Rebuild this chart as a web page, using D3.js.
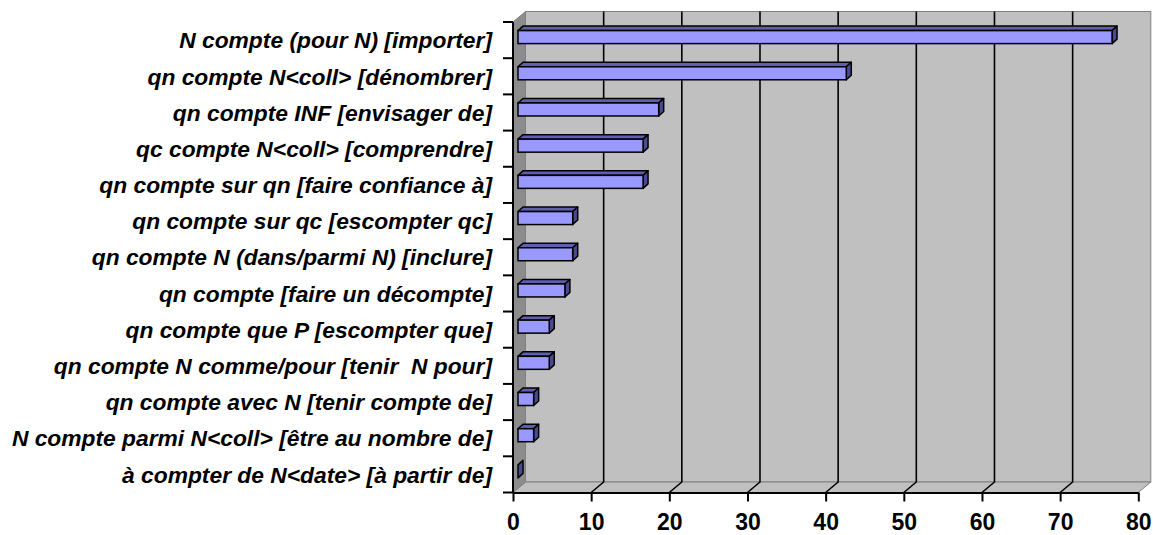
<!DOCTYPE html>
<html><head><meta charset="utf-8">
<script src="https://cdn.jsdelivr.net/npm/d3@7"></script>
<style>
html,body{margin:0;padding:0;background:#fff;}
svg{display:block;}
</style></head>
<body>
<svg id="chart" width="1153" height="535"></svg>
<script>
const categories = [
  "N compte (pour N) [importer]",
  "qn compte N<coll> [dénombrer]",
  "qn compte INF [envisager de]",
  "qc compte N<coll> [comprendre]",
  "qn compte sur qn [faire confiance à]",
  "qn compte sur qc [escompter qc]",
  "qn compte N (dans/parmi N) [inclure]",
  "qn compte [faire un décompte]",
  "qn compte que P [escompter que]",
  "qn compte N comme/pour [tenir  N pour]",
  "qn compte avec N [tenir compte de]",
  "N compte parmi N<coll> [être au nombre de]",
  "à compter de N<date> [à partir de]"
];
const values = [76, 42, 18, 16, 16, 7, 7, 6, 4, 4, 2, 2, 0];
const xTicks = [0, 10, 20, 30, 40, 50, 60, 70, 80];

(function () {
const svg = d3.select("#chart");
const pLeft = 513, pRight = 1138.3, pTop = 22, pBottom = 492.5;
const DX = 12.5, DY = 10.5;

const x = d3.scaleLinear().domain([0, 80]).range([pLeft, pRight]);
const y = d3.scaleBand().domain(categories).range([pTop, pBottom]).paddingInner(0).paddingOuter(0);
const pts = a => a.map(p => p.join(",")).join(" ");

// back wall
svg.append("rect").attr("x", pLeft + DX).attr("y", pTop - DY)
  .attr("width", pRight - pLeft).attr("height", pBottom - pTop)
  .attr("fill", "#c0c0c0").attr("stroke", "#808080").attr("stroke-width", 1);
// floor
svg.append("polygon")
  .attr("points", pts([[pLeft, pBottom], [pRight, pBottom], [pRight + DX, pBottom - DY], [pLeft + DX, pBottom - DY]]))
  .attr("fill", "#c0c0c0").attr("stroke", "#808080").attr("stroke-width", 1);
// left wall
svg.append("polygon")
  .attr("points", pts([[pLeft, pTop], [pLeft + DX, pTop - DY], [pLeft + DX, pBottom - DY], [pLeft, pBottom]]))
  .attr("fill", "#8c8c8c").attr("stroke", "#808080").attr("stroke-width", 1);

// gridlines
const grid = xTicks.filter(t => t > 0 && t < 80);
svg.append("g").selectAll("path").data(grid).join("path")
  .attr("d", t => `M${x(t) + DX},${pTop - DY} L${x(t) + DX},${pBottom - DY} L${x(t)},${pBottom}`)
  .attr("fill", "none").attr("stroke", "#000").attr("stroke-width", 1.6);

// bars
const ox = 5, oy = -3, bh = 13, bdx = 5, bdy = 4.5;
const bars = svg.append("g").selectAll("g").data(categories).join("g");
bars.each(function (c, i) {
  const g = d3.select(this);
  const v = values[i];
  const x0 = x(0) + ox, x1 = x(v) + ox;
  const yt = y(c) + y.bandwidth() / 2 - bh / 2 + oy, yb = yt + bh;
  if (v > 0) {
    g.append("polygon").attr("points", pts([[x0, yt], [x1, yt], [x1 + bdx, yt - bdy], [x0 + bdx, yt - bdy]]))
      .attr("fill", "#5f5fae").attr("stroke", "#000").attr("stroke-width", 1.5).attr("stroke-linejoin", "round");
  }
  g.append("polygon").attr("points", pts([[x1, yt], [x1 + bdx, yt - bdy], [x1 + bdx, yb - bdy], [x1, yb]]))
    .attr("fill", "#4a4a8e").attr("stroke", "#000").attr("stroke-width", 1.5).attr("stroke-linejoin", "round");
  if (v > 0) {
    g.append("rect").attr("x", x0).attr("y", yt).attr("width", x1 - x0).attr("height", bh)
      .attr("fill", "#9999ff").attr("stroke", "#000").attr("stroke-width", 1.5);
  }
});

// x axis
const xAxis = d3.axisBottom(x).tickValues(xTicks).tickSize(9).tickPadding(12).tickSizeOuter(0);
const gx = svg.append("g").attr("transform", `translate(0,${pBottom})`).call(xAxis);
gx.select(".domain").attr("stroke", "#000").attr("stroke-width", 2);
gx.selectAll(".tick line").attr("stroke", "#000").attr("stroke-width", 2);
gx.selectAll(".tick text").attr("fill", "#000")
  .style("font-family", "'Liberation Sans', Arial, sans-serif").style("font-size", "23px").style("font-weight", "bold");

// y axis: line + boundary ticks
const gy = svg.append("g");
gy.append("line").attr("x1", pLeft).attr("x2", pLeft).attr("y1", pTop).attr("y2", pBottom)
  .attr("stroke", "#000").attr("stroke-width", 2);
const bounds = categories.map(c => y(c)).concat([pBottom]);
gy.selectAll("line.tk").data(bounds).join("line").attr("class", "tk")
  .attr("x1", pLeft - 10).attr("x2", pLeft).attr("y1", d => d).attr("y2", d => d)
  .attr("stroke", "#000").attr("stroke-width", 2);

const yAxis = d3.axisLeft(y).tickSize(0).tickPadding(pLeft - 492);
const gl = svg.append("g").attr("transform", `translate(${pLeft},0)`).call(yAxis);
gl.select(".domain").remove();
gl.selectAll(".tick text").attr("fill", "#000").attr("dy", "0.36em")
  .style("white-space", "pre")
  .style("font-family", "'Liberation Sans', Arial, sans-serif").style("font-size", "22.8px")
  .style("font-weight", "bold").style("font-style", "italic");
})();
</script>
</body></html>
